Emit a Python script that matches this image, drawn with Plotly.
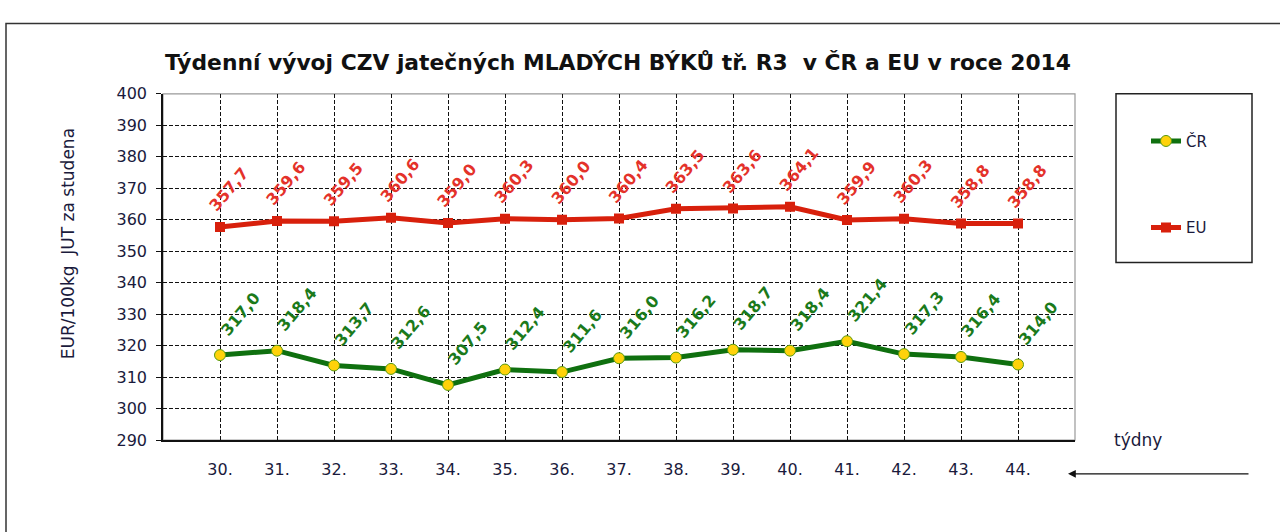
import plotly.graph_objects as go

W, H = 1280, 532

weeks = list(range(30, 45))
week_labels = [f"{w}." for w in weeks]
cr_values = [317.0, 318.4, 313.7, 312.6, 307.5, 312.4, 311.6, 316.0,
             316.2, 318.7, 318.4, 321.4, 317.3, 316.4, 314.0]
eu_values = [357.7, 359.6, 359.5, 360.6, 359.0, 360.3, 360.0, 360.4,
             363.5, 363.6, 364.1, 359.9, 360.3, 358.8, 358.8]

title_text = "Týdenní vývoj CZV jatečných MLADÝCH BÝKŮ tř. R3\u00a0\u00a0v ČR a EU v roce 2014"
y_title = "EUR/100kg\u00a0\u00a0JUT za studena"

FONT = "DejaVu Sans"
INK = "#1a1a3c"
GREEN = "#0f700f"
GREEN_TXT = "#1b7a1b"
RED = "#d8200c"
RED_TXT = "#e4322a"


def px_x(p):
    return p / W


def px_y(p):
    return 1 - p / H


def fmt(v):
    return f"{v:.1f}".replace(".", ",")


def note(x, y, text, size, color=INK, bold=False, angle=0):
    return dict(x=px_x(x), y=px_y(y), xref="paper", yref="paper", text=text,
                xanchor="center", yanchor="middle", textangle=angle,
                showarrow=False,
                font={"family": FONT, "size": size, "color": color,
                      "weight": "bold" if bold else "normal"})


# plot area in pixels
left, right, top, bottom = 163, 1075, 88, 447

fig = go.Figure()
fig.add_trace(
    go.Scatter(
        x=weeks,
        y=cr_values,
        mode="lines+markers",
        name="ČR",
        legendgroup="cr",
        line={"color": GREEN, "width": 5},
        marker={"color": "#ffd20a", "size": 11, "symbol": "circle",
                "line": {"color": "#5a9a10", "width": 1}},
    )
)
fig.add_trace(
    go.Scatter(
        x=weeks,
        y=eu_values,
        mode="lines+markers",
        name="EU",
        legendgroup="eu",
        line={"color": RED, "width": 5},
        marker={"color": RED, "size": 10, "symbol": "square"},
    )
)

annotations = []
for w, v in zip(weeks, eu_values):
    annotations.append(
        dict(x=w, y=v, xref="x", yref="y", text=fmt(v), showarrow=False,
             xanchor="center", yanchor="middle",
             textangle=-50, xshift=9, yshift=37,
             font={"family": FONT, "size": 16, "color": RED_TXT, "weight": "bold"})
    )
for w, v in zip(weeks, cr_values):
    annotations.append(
        dict(x=w, y=v, xref="x", yref="y", text=fmt(v), showarrow=False,
             xanchor="center", yanchor="middle",
             textangle=-50, xshift=20, yshift=41,
             font={"family": FONT, "size": 16, "color": GREEN_TXT, "weight": "bold"})
    )

annotations += [
    note(618, 55, title_text, 21.8, color="#111", bold=True),
    note(68, (123 + 365) / 2, y_title, 17, angle=-90),
    note(1138, 447, "týdny", 17),
    dict(x=px_x(1068), y=px_y(482), xref="paper", yref="paper",
         ax=182, ay=0, axref="pixel", ayref="pixel",
         text="", showarrow=True, arrowhead=2, arrowsize=1.2, arrowwidth=1.3,
         arrowcolor="#111"),
]

shapes = [
    # outer frame
    dict(type="rect", xref="paper", yref="paper", x0=px_x(6), y0=-0.2,
         x1=1.2, y1=px_y(15), line={"color": "#333", "width": 1.5}),
    # plot area border
    dict(type="rect", xref="paper", yref="paper", x0=px_x(left), y0=px_y(bottom),
         x1=px_x(right), y1=px_y(top), line={"color": "#999", "width": 1.2},
         layer="below"),
    # legend box
    dict(type="rect", xref="paper", yref="paper", x0=px_x(1116), y0=px_y(263),
         x1=px_x(1252), y1=px_y(88), line={"color": "#222", "width": 1.5}),
]

fig.update_layout(
    width=W,
    height=H,
    margin={"l": 0, "r": 0, "t": 0, "b": 0},
    paper_bgcolor="white",
    plot_bgcolor="white",
    showlegend=True,
    legend={
        "x": px_x(1146), "y": px_y(120), "xanchor": "left", "yanchor": "top",
        "bgcolor": "rgba(0,0,0,0)", "borderwidth": 0,
        "font": {"family": FONT, "size": 15, "color": INK},
        "tracegroupgap": 64, "itemwidth": 30,
    },
    xaxis={
        "domain": [px_x(left), px_x(right)],
        "range": [29, 45],
        "tickvals": weeks,
        "ticktext": week_labels,
        "showgrid": True,
        "gridcolor": "#111",
        "griddash": "4px,2px",
        "gridwidth": 1,
        "showline": True,
        "linecolor": "#111",
        "linewidth": 1.5,
        "ticks": "",
        "ticklabelstandoff": 14,
        "zeroline": False,
        "tickfont": {"family": FONT, "size": 16, "color": INK},
        "fixedrange": True,
    },
    yaxis={
        "domain": [px_y(bottom), px_y(top)],
        "range": [290, 400],
        "dtick": 10,
        "tick0": 290,
        "showgrid": True,
        "gridcolor": "#111",
        "griddash": "4px,2px",
        "gridwidth": 1,
        "showline": True,
        "linecolor": "#111",
        "linewidth": 1.5,
        "ticks": "outside",
        "ticklen": 5,
        "tickcolor": "#111",
        "ticklabelstandoff": 6,
        "zeroline": False,
        "tickfont": {"family": FONT, "size": 16, "color": INK},
        "fixedrange": True,
    },
    annotations=annotations,
    shapes=shapes,
)

# pin the figure to the page corner so nothing offsets or scrolls it
pin = (
    "document.body.style.margin='0';"
    "document.documentElement.style.overflow='hidden';"
    "var gd=document.getElementById('{plot_id}');"
    "gd.style.position='absolute';gd.style.left='0';gd.style.top='0';"
)
fig.write_html("out.html", config={"displayModeBar": False}, post_script=pin)
